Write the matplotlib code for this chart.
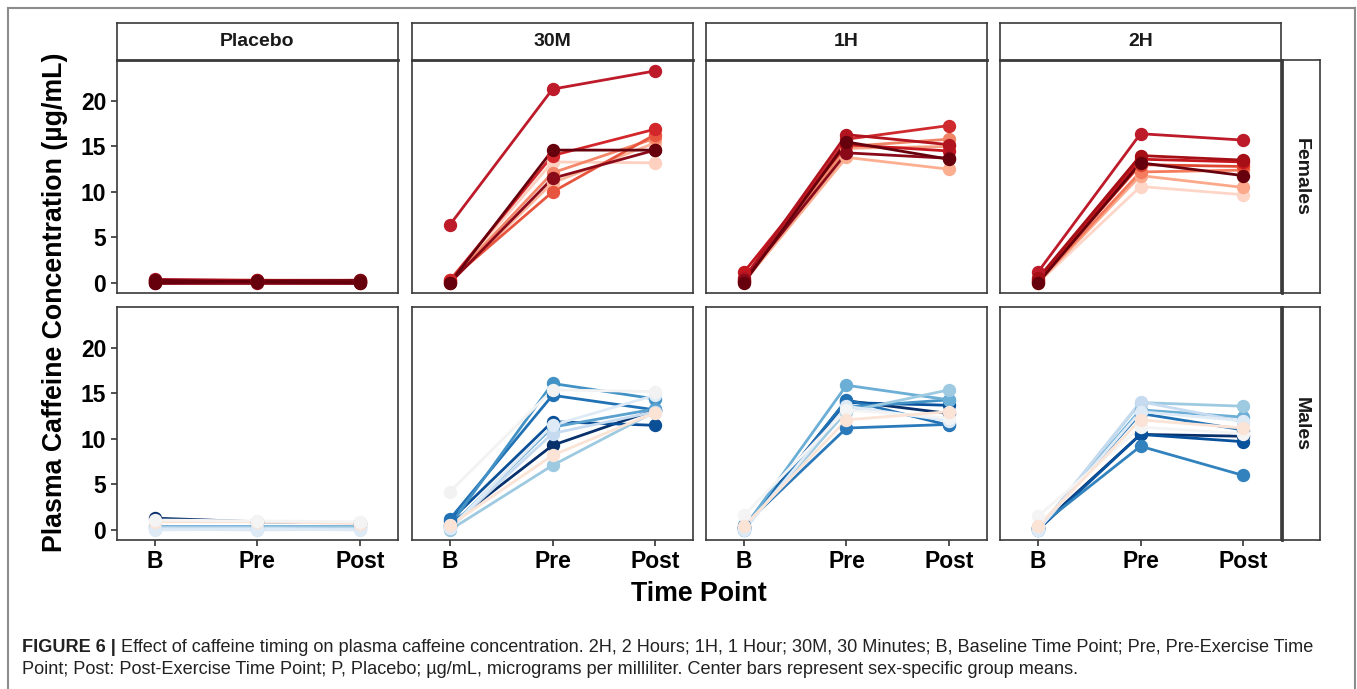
import matplotlib
matplotlib.use("Agg")
import matplotlib.pyplot as plt
from matplotlib.lines import Line2D
from matplotlib import font_manager

# ---------------- data ----------------
timepoints = ["B", "Pre", "Post"]
conditions = ["Placebo", "30M", "1H", "2H"]
sexes = ["Females", "Males"]

# Females: each row = one subject [B, Pre, Post]
fem_placebo = [[0.3, 0.2, 0.2], [0.1, 0.1, 0.1], [0.4, 0.3, 0.3], [0.0, 0.0, 0.0],
               [0.2, 0.3, 0.2], [0.1, 0.2, 0.3], [0.3, 0.1, 0.0], [0.0, 0.2, 0.1]]
fem_placebo_colors = ["#cb181d", "#a50f15", "#b2182b", "#8b0a1a", "#a50f15", "#7a0a12", "#67000d", "#67000d"]

fem_30m = [[0.2, 13.3, 13.2], [0.1, 11.0, 15.4], [0.2, 12.1, 15.9], [0.3, 10.0, 16.3],
           [0.3, 14.0, 16.9], [6.4, 21.3, 23.3], [0.0, 11.5, 14.6], [0.0, 14.6, 14.6]]
fem_30m_colors = ["#fdd0c0", "#fcb69c", "#f4876a", "#e8553f", "#d2262b", "#bd1a2a", "#8b0a1a", "#67000d"]

fem_1h = [[0.1, 13.8, 12.5], [0.1, 14.8, 15.0], [0.2, 15.0, 15.8], [0.2, 15.8, 17.3],
          [1.2, 15.2, 14.5], [0.5, 16.3, 15.2], [0.3, 14.3, 13.7], [0.0, 15.5, 13.6]]
fem_1h_colors = ["#fcae91", "#f6a385", "#f08566", "#cf2a2e", "#c4161f", "#b2141f", "#8b0a1a", "#67000d"]

fem_2h = [[0.0, 10.6, 9.7], [0.0, 11.8, 10.5], [0.1, 12.2, 12.4], [0.2, 13.0, 12.8],
          [1.2, 16.4, 15.7], [0.3, 13.6, 13.3], [0.5, 14.0, 13.5], [0.0, 13.2, 11.8]]
fem_2h_colors = ["#fdd6c8", "#fca98b", "#f47b5e", "#e0452f", "#bd1a2a", "#c4161f", "#a50f15", "#67000d"]

# Males
male_placebo = [[1.3, 0.9, 0.8], [0.4, 0.4, 0.4], [0.3, 0.3, 0.3], [0.2, 0.2, 0.1],
                [0.1, 0.0, 0.1], [0.0, 0.1, 0.0], [0.9, 0.9, 0.7], [1.1, 1.0, 0.9]]
male_placebo_colors = ["#08306b", "#6baed6", "#9ecae1", "#c6dbef", "#d6e6f4", "#deebf7", "#fbe3d6", "#f4f4f4"]

male_30m = [[0.6, 9.3, 13.2], [1.0, 11.9, 11.5], [1.2, 14.8, 13.2], [0.5, 16.1, 14.4],
            [0.3, 11.3, 13.3], [0.0, 7.1, 13.0], [0.2, 10.6, 13.0], [0.2, 11.5, 14.8],
            [4.2, 15.4, 15.2], [0.5, 8.2, 12.9]]
male_30m_colors = ["#08306b", "#0b4f96", "#2171b5", "#4292c6", "#5aa1d0", "#9ecae1",
                   "#c6dbef", "#deebf7", "#f2f2f2", "#fbe3d6"]

male_1h = [[0.3, 14.2, 12.8], [0.3, 14.0, 13.7], [0.0, 14.3, 11.5], [0.5, 11.2, 11.6],
           [0.1, 13.5, 14.3], [0.2, 15.9, 14.3], [0.2, 13.0, 15.4], [0.0, 13.6, 12.0],
           [1.6, 13.2, 12.3], [0.4, 12.1, 13.0]]
male_1h_colors = ["#08306b", "#08519c", "#2171b5", "#2a79bb", "#4292c6", "#6baed6",
                  "#9ecae1", "#deebf7", "#f4f4f4", "#fbe3d6"]

male_2h = [[0.2, 10.5, 10.3], [0.0, 10.5, 9.7], [0.2, 12.8, 11.0], [0.3, 9.2, 6.0],
           [0.1, 13.2, 12.4], [0.0, 14.0, 13.6], [0.0, 14.1, 11.9], [0.0, 13.0, 12.0],
           [1.5, 11.3, 10.6], [0.4, 12.1, 11.2]]
male_2h_colors = ["#08306b", "#08519c", "#2171b5", "#3182bd", "#6baed6", "#9ecae1",
                  "#c6dbef", "#deebf7", "#f4f4f4", "#fbe3d6"]

panel_data = {
    ("Females", "Placebo"): (fem_placebo, fem_placebo_colors),
    ("Females", "30M"): (fem_30m, fem_30m_colors),
    ("Females", "1H"): (fem_1h, fem_1h_colors),
    ("Females", "2H"): (fem_2h, fem_2h_colors),
    ("Males", "Placebo"): (male_placebo, male_placebo_colors),
    ("Males", "30M"): (male_30m, male_30m_colors),
    ("Males", "1H"): (male_1h, male_1h_colors),
    ("Males", "2H"): (male_2h, male_2h_colors),
}
yticks = [0, 5, 10, 15, 20]

caption_bold = "FIGURE 6 |"
caption_line1 = (" Effect of caffeine timing on plasma caffeine concentration. 2H, 2 Hours; 1H, 1 Hour; "
                 "30M, 30 Minutes; B, Baseline Time Point; Pre, Pre-Exercise Time")
caption_line2 = ("Point; Post: Post-Exercise Time Point; P, Placebo; \u00b5g/mL, micrograms per milliliter. "
                 "Center bars represent sex-specific group means.")

# ---------------- layout ----------------
W, H = 1357, 689
plt.rcParams["font.family"] = ["Liberation Sans", "DejaVu Sans"]
fig = plt.figure(figsize=(W / 100, H / 100), dpi=100)

def rect(x, y_top, w, h):
    return [x / W, 1 - (y_top + h) / H, w / W, h / H]

col_x = [116.7, 412, 706, 1000]
pw = 281
row_y = [60, 307]
ph = 233
frame_col = "#3a3a3a"

for r, sex in enumerate(sexes):
    for c, cond in enumerate(conditions):
        ax = fig.add_axes(rect(col_x[c], row_y[r], pw, ph))
        vals, cols = panel_data[(sex, cond)]
        xs = [1, 2, 3]
        for v, col in zip(vals, cols):
            ax.plot(xs, v, color=col, lw=2.0, zorder=2, solid_capstyle="butt")
        for v, col in zip(vals, cols):
            ax.plot(xs, v, linestyle="none", marker="o", ms=8.6, mfc=col, mec=col, zorder=3)
        ax.set_xlim(0.63, 3.37)
        ax.set_ylim(-1.1, 24.5)
        ax.set_xticks(xs)
        ax.set_yticks(yticks)
        for s in ax.spines.values():
            s.set_color(frame_col)
            s.set_linewidth(1.2)
        ax.tick_params(axis="both", length=4.5, width=1.2, color="#333333",
                       labelsize=16.5, pad=3)
        if c == 0:
            ax.set_yticklabels([str(t) for t in yticks], fontweight="bold")
        else:
            ax.tick_params(axis="y", left=False, labelleft=False)
        if r == 1:
            ax.set_xticklabels(timepoints, fontweight="bold")
            ax.tick_params(axis="x", pad=3)
        else:
            ax.tick_params(axis="x", bottom=False, labelbottom=False)

        # top strips
        if r == 0:
            sa = fig.add_axes(rect(col_x[c], 22.7, pw, 37.3))
            sa.set_xticks([]); sa.set_yticks([])
            for s in sa.spines.values():
                s.set_color(frame_col); s.set_linewidth(1.2)
            sa.spines["bottom"].set_linewidth(2.0)
            sa.text(0.5, 0.5, cond, ha="center", va="center", fontsize=14,
                    fontweight="bold", color="#1a1a1a", transform=sa.transAxes)
    # right strips
    ra = fig.add_axes(rect(1282, row_y[r], 38, ph))
    ra.set_xticks([]); ra.set_yticks([])
    for s in ra.spines.values():
        s.set_color(frame_col); s.set_linewidth(1.2)
    ra.spines["left"].set_linewidth(2.0)
    ra.text(0.5, 0.5, sex, ha="center", va="center", rotation=-90, fontsize=14,
            fontweight="bold", color="#1a1a1a", transform=ra.transAxes)

# axis titles
fig.text(55 / W, 1 - 302 / H, "Plasma Caffeine Concentration (\u00b5g/mL)", rotation=90,
         ha="center", va="center", fontsize=19.3, fontweight="bold")
fig.text(699 / W, 1 - 594 / H, "Time Point", ha="center", va="center",
         fontsize=19.3, fontweight="bold")

# outer border (left, top, right)
bc = "#8c8c8c"
fig.add_artist(Line2D([7.5 / W, 7.5 / W], [0, 1 - 7.5 / H], color=bc, lw=1.5, transform=fig.transFigure))
fig.add_artist(Line2D([7.5 / W, 1354.5 / W], [1 - 7.5 / H, 1 - 7.5 / H], color=bc, lw=1.5, transform=fig.transFigure))
fig.add_artist(Line2D([1354.5 / W, 1354.5 / W], [0, 1 - 7.5 / H], color=bc, lw=1.5, transform=fig.transFigure))

# caption: fit first line to the reference width (22 -> 1316 px)
cap_family = "Liberation Sans"
s0 = 11.0
t_b = fig.text(22 / W, 1 - 647 / H, caption_bold, ha="left", va="center", fontsize=s0,
               fontweight="bold", family=cap_family, color="#222222")
t_1 = fig.text(0, 1 - 647 / H, caption_line1, ha="left", va="center", fontsize=s0,
               family=cap_family, color="#222222")
fig.canvas.draw()
wtot = t_b.get_window_extent().width + t_1.get_window_extent().width
s1 = s0 * (1316 - 22) / wtot
t_b.set_fontsize(s1)
t_1.set_fontsize(s1)
fig.canvas.draw()
t_1.set_x(t_b.get_window_extent().x1 / W)
fig.text(22 / W, 1 - 670 / H, caption_line2, ha="left", va="center", fontsize=s1,
         family=cap_family, color="#222222")

fig.savefig("out.png", dpi=100)
